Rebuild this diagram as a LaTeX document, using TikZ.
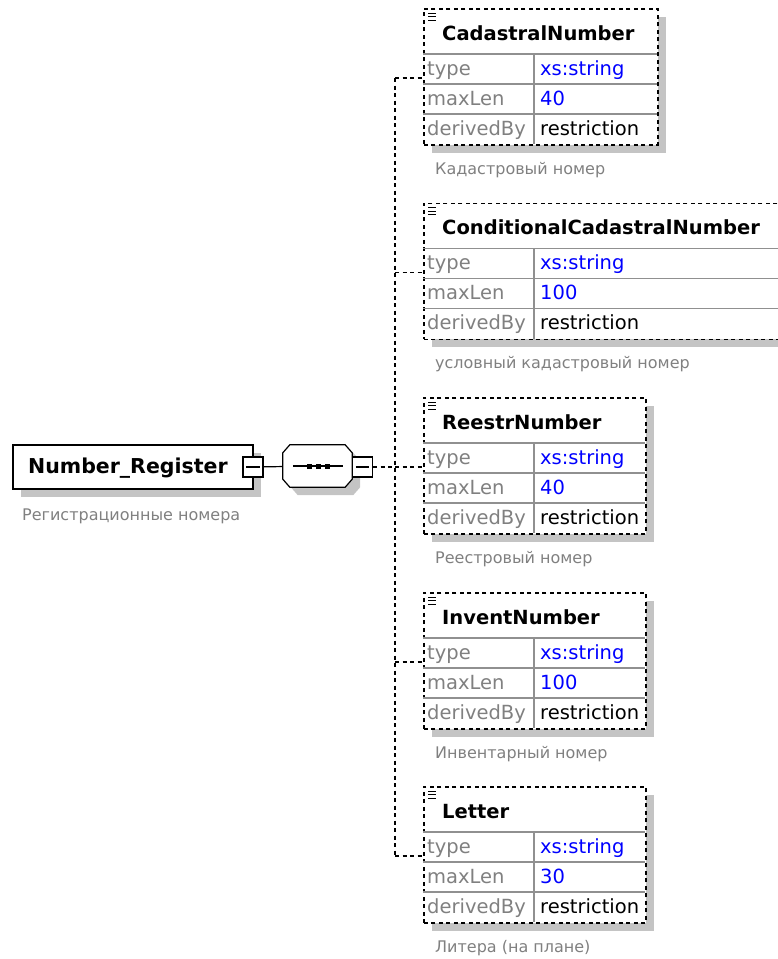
\documentclass[tikz,border=0pt]{standalone}
\usepackage{fontspec}
\setmainfont{DejaVu Sans}
\usetikzlibrary{shadows}

\definecolor{xsgray}{HTML}{808080}
\definecolor{xsgrid}{HTML}{909090}
\definecolor{xsblue}{HTML}{0000FF}
\definecolor{xsshade}{HTML}{C4C4C4}

\tikzset{
    shade8/.style={drop shadow={shadow xshift=8pt, shadow yshift=-8pt, fill=xsshade, opacity=1}},
    elem/.style={draw, line width=1.5pt, dash pattern=on 4pt off 3.5pt, fill=white, inner sep=0pt,
        minimum height=136pt, anchor=north west, shade8},
    nrbox/.style={draw, line width=1.8pt, fill=white, inner sep=0pt, anchor=north west, shade8},
    seqbox/.style={inner sep=0pt, minimum width=69pt, minimum height=42pt},
    minusbox/.style={draw, line width=1.2pt, fill=white, inner sep=0pt, minimum size=20pt},
    grid/.style={xsgrid, line width=1.5pt},
    link/.style={line width=1.5pt, dash pattern=on 4pt off 3.5pt},
    ttl/.style={font=\fontsize{19.5}{22}\selectfont\bfseries, anchor=base west, inner sep=0pt},
    lbl/.style={font=\fontsize{19.5}{22}\selectfont, text=xsgray, anchor=base west, inner sep=0pt},
    val/.style={font=\fontsize{19.5}{22}\selectfont, anchor=base west, inner sep=0pt},
    dsc/.style={font=\fontsize{16}{18}\selectfont, text=xsgray, anchor=base west, inner sep=0pt},
}

\newcommand{\elembox}[6]{%
    \begin{scope}[shift={(423,#2)}]
    \node[elem, minimum width=#3pt] (#1) at (0,0) {};
    \draw[grid] (0,46) -- (#3,46) (0,76) -- (#3,76) (0,106) -- (#3,106) (111,46) -- (111,136);
    \draw[line width=1pt] (5,5) -- (13,5) (5,8.5) -- (13,8.5) (5,12) -- (13,12);
    \node[ttl] (#1-ttl) at (19,32) {#4};
    \node[lbl] (#1-type) at (4,67) {type};
    \node[lbl] (#1-len) at (4,97) {maxLen};
    \node[lbl] (#1-der) at (4,127) {derivedBy};
    \node[val, text=xsblue] (#1-typev) at (117,67) {xs:string};
    \node[val, text=xsblue] (#1-lenv) at (117,97) {#5};
    \node[val] (#1-derv) at (117,127) {restriction};
    \node[dsc] (#1-dsc) at (12,166) {#6};
    \coordinate (#1-in) at (0,70);
    \end{scope}}

\begin{document}
\begin{tikzpicture}[x=1pt, y=-1pt]
    \useasboundingbox (0,0) rectangle (778,959);

    \elembox{cad}{8}{234}{CadastralNumber}{40}{Кадастровый номер}
    \elembox{ccad}{202.5}{360}{ConditionalCadastralNumber}{100}{условный кадастровый номер}
    \elembox{reestr}{397}{222}{ReestrNumber}{40}{Реестровый номер}
    \elembox{invent}{592}{222}{InventNumber}{100}{Инвентарный номер}
    \elembox{letter}{786}{222}{Letter}{30}{Литера (на плане)}

    \node[nrbox, minimum width=240pt, minimum height=44pt] (nr) at (12,444) {};
    \node[ttl, font=\fontsize{20.5}{22}\selectfont\bfseries] (nr-ttl) at (28,473) {Number\_Register};
    \node[dsc] (nr-dsc) at (22,520) {Регистрационные номера};
    \node[minusbox] (nr-minus) at (253,467) {};
    \draw[line width=1.2pt] ([xshift=4pt]nr-minus.west) -- ([xshift=-4pt]nr-minus.east);

    \node[seqbox] (seq) at (317.5,466) {};
    \filldraw[fill=white, line width=1.2pt, shade8]
        ([xshift=7pt]seq.north west) -- ([xshift=-7pt]seq.north east)
        -- ([yshift=-8pt]seq.north east) -- ([yshift=8pt]seq.south east)
        -- ([xshift=-7pt]seq.south east) -- ([xshift=7pt]seq.south west)
        -- ([yshift=8pt]seq.south west) -- ([yshift=-8pt]seq.north west) -- cycle;
    \draw[line width=1.2pt] ([xshift=10pt]seq.west) -- ([xshift=-9pt]seq.east);
    \foreach \sx in {309,318,327}
        \fill (\sx-2.5,463.5) rectangle (\sx+2.5,468.5);
    \node[minusbox] (seq-minus) at (362.5,467) {};
    \draw[line width=1.2pt] ([xshift=4pt]seq-minus.west) -- ([xshift=-4pt]seq-minus.east);

    \coordinate (hub) at (395,467);
    \draw[line width=1.2pt] (nr-minus) -- (seq);
    \draw[link] (seq-minus) -- (hub);
    \draw[link] (cad-in -| hub) -- (letter-in -| hub);
    \foreach \el in {cad,ccad,reestr,invent,letter}
        \draw[link] (\el-in -| hub) -- (\el-in);
\end{tikzpicture}
\end{document}
